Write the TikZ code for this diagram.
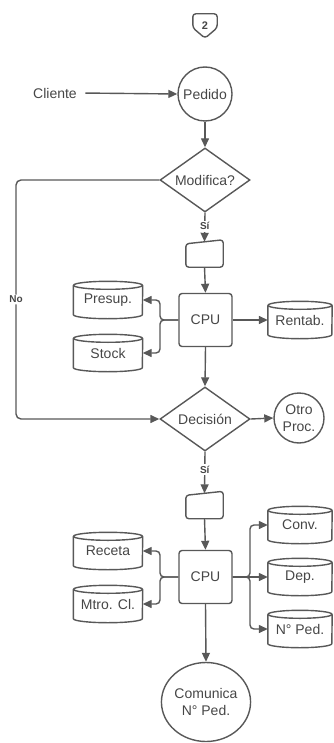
\documentclass[tikz,border=0pt]{standalone}
\usepackage{fontspec}
\setmainfont{Liberation Sans}
\usetikzlibrary{shapes.geometric,arrows.meta,calc}
\definecolor{ln}{RGB}{88,88,88}
\definecolor{tx}{RGB}{70,70,70}

% database cylinder: name, x, y, text, width
\newcommand\dbcyl[5]{%
  \node[dbbox, minimum width=#5pt] (#1) at (#2,#3) {#4};
  \draw[line] ($(#1.north west)+(0,-4)$) -- ($(#1.south west)+(0,4)$)
    arc[start angle=180,end angle=360,x radius=#5pt/2,y radius=4pt]
    -- ($(#1.north east)+(0,-4)$);
  \draw[line] ($(#1.north)+(0,-4)$) ellipse[x radius=#5pt/2,y radius=4pt];
}
% manual input box: name, x, y
\newcommand\manin[3]{%
  \node[mbox] (#1) at (#2,#3) {};
  \draw[line, rounded corners=3pt] ($(#1.north west)+(0,-2)$) -- ($(#1.north east)+(0,2)$)
    -- (#1.south east) -- (#1.south west) -- cycle;
}

\begin{document}
\begin{tikzpicture}[x=1pt,y=1pt,
  every node/.style={text=tx, font=\fontsize{14}{17}\selectfont},
  line/.style={draw=ln, line width=1.4pt, line join=round},
  arrow/.style={line, -{Triangle[length=9pt,width=8pt]}},
  circ/.style={circle, draw=ln, line width=1.4pt, inner sep=0pt, align=center},
  dec/.style={diamond, draw=ln, line width=1.4pt, inner sep=0pt, aspect=1.4,
    minimum width=90pt, minimum height=64pt},
  proc/.style={rectangle, rounded corners=3pt, draw=ln, line width=1.4pt,
    minimum width=53pt, minimum height=53pt},
  dbbox/.style={rectangle, inner sep=0pt, minimum height=37pt},
  mbox/.style={rectangle, inner sep=0pt, minimum width=37pt, minimum height=25pt},
  lbl/.style={fill=white, inner sep=1.5pt, font=\bfseries\fontsize{10}{12}\selectfont}]
\useasboundingbox (0,0) rectangle (334,-743);

% page badge
\node[inner sep=0pt, minimum width=24pt, minimum height=24pt,
  font=\bfseries\fontsize{11}{13}\selectfont] (badge) at (205,-26) {2};
\draw[line, rounded corners=3pt] (badge.north west) -- (badge.north east)
  -- ($(badge.north east)+(0,-14)$) -- (badge.south)
  -- ($(badge.north west)+(0,-14)$) -- cycle;

% first part
\node (cliente) at (55,-93) {Cliente};
\node[circ, minimum size=54pt] (pedido) at (205,-94) {Pedido};
\node[dec] (mod) at (205,-180) {Modifica?};
\manin{mi1}{204.5}{-254.5}
\node[proc] (cpu1) at (205.5,-320) {CPU};
\dbcyl{presup}{108}{-300}{Presup.}{69}
\dbcyl{stock}{108}{-353}{Stock}{69}
\dbcyl{rentab}{300}{-320}{Rentab.}{64}

% decision
\node[dec] (dec) at (205,-419) {Decisión};
\node[circ, minimum size=50pt] (otro) at (299,-418) {Otro\\Proc.};

% second part
\manin{mi2}{204.5}{-506}
\node[proc] (cpu2) at (205.5,-577) {CPU};
\dbcyl{receta}{108}{-551}{Receta}{69}
\dbcyl{mtro}{108}{-604}{Mtro. Cl.}{69}
\dbcyl{conv}{300}{-525}{Conv.}{64}
\dbcyl{dep}{300}{-577}{Dep.}{64}
\dbcyl{nped}{300}{-629}{N° Ped.}{64}
\node[ellipse, draw=ln, line width=1.4pt, inner sep=0pt, align=center,
  minimum width=72pt, minimum height=79pt] (com) at (206,-702) {Comunica\\N° Ped.};

% connectors
\draw[arrow, shorten <=5pt] (cliente.east) -- (pedido.west);
\draw[arrow] (pedido.south) -- (mod.north);
\draw[arrow] (mod.south) -- node[lbl, pos=0.47] {Sí} (mi1.north);
\draw[arrow] (mi1.south) -- (cpu1.north);
\draw[arrow, rounded corners=4pt] (cpu1.west) -- (160,-320) |- (presup.east);
\draw[arrow, rounded corners=4pt] (cpu1.west) -- (160,-320) |- (stock.east);
\draw[arrow] (cpu1.east) -- (rentab.west);
\draw[arrow] (cpu1.south) -- (dec.north);
\draw[arrow, rounded corners=5pt] (mod.west) -- (16,-180)
  -- node[lbl] {No} (16,-419) -- (dec.west);
\draw[arrow] (dec.east) -- (otro.west);
\draw[arrow] (dec.south) -- node[lbl, pos=0.43] {Sí} (mi2.north);
\draw[arrow] (mi2.south) -- (cpu2.north);
\draw[arrow, rounded corners=4pt] (cpu2.west) -- (160,-577) |- (receta.east);
\draw[arrow, rounded corners=4pt] (cpu2.west) -- (160,-577) |- (mtro.east);
\draw[arrow, rounded corners=4pt] (cpu2.east) -- (250,-577) |- (conv.west);
\draw[arrow] (cpu2.east) -- (dep.west);
\draw[arrow, rounded corners=4pt] (cpu2.east) -- (250,-577) |- (nped.west);
\draw[arrow] (cpu2.south) -- (com.north);
\end{tikzpicture}
\end{document}
